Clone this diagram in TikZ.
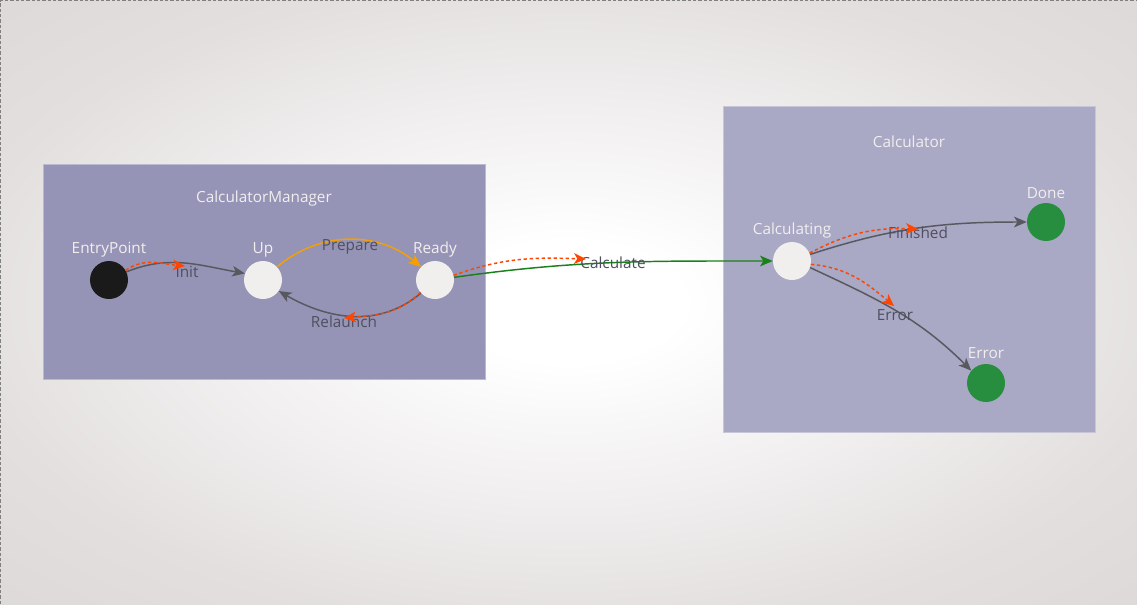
\documentclass[tikz,border=0pt]{standalone}
\usepackage{fontspec}
\setmainfont{Open Sans}
\usetikzlibrary{arrows.meta}
\definecolor{bgc}{HTML}{D5D0D0}
\definecolor{bgm}{HTML}{E3DFDF}
\definecolor{boxa}{HTML}{9694B6}
\definecolor{boxb}{HTML}{A9A8C5}
\definecolor{statew}{HTML}{F1EEEE}
\definecolor{stateg}{HTML}{268E3E}
\definecolor{stateb}{HTML}{1A1A1A}
\definecolor{edgegray}{HTML}{58585F}
\definecolor{lblgray}{HTML}{4F4F60}
\definecolor{tokc}{HTML}{FF4500}
\definecolor{prepc}{HTML}{F5A000}
\definecolor{calcc}{HTML}{1A801A}
\pgfdeclareradialshading{bgshade}{\pgfpoint{0bp}{0bp}}{color(0bp)=(white); color(5bp)=(white); color(27bp)=(bgm); color(50bp)=(bgc)}
\begin{document}
\begin{tikzpicture}[x=0.75pt,y=0.75pt,
  every node/.style={font=\fontsize{11.5}{14}\selectfont},
  group/.style={draw=white!35!#1, line width=0.6pt, fill=#1},
  state/.style={circle, minimum size=28.5pt, inner sep=0pt, fill=#1},
  title/.style={text=statew, inner sep=0pt},
  elbl/.style={text=lblgray, inner sep=0pt},
  trans/.style={draw=#1, line width=1.1pt, -{Stealth[length=9.5pt,width=8pt,inset=2.5pt]}},
  tok/.style={draw=tokc, line width=1.1pt, dash pattern=on 2.5pt off 2pt, -{Stealth[length=9pt,width=8pt,inset=2.5pt]}}
]
\useasboundingbox (0,0) rectangle (1137,-604);
\fill[bgc] (0,0) rectangle (1137,-604);
\shade[shading=bgshade] (0,0) rectangle (1137,-604);
\draw[gray, line width=0.75pt, dash pattern=on 2.5pt off 1.5pt] (0.5,-604) -- (0.5,-0.5) -- (1137,-0.5);

% groups
\path[group=boxa] (43,-164) rectangle (485,-379);
\path[group=boxb] (723,-106) rectangle (1095,-432);
\node[title] (tman) at (264,-199) {CalculatorManager};
\node[title] (tcalc) at (909,-142) {Calculator};

% states
\node[state=stateb] (ep) at (109,-280) {};
\node[state=statew] (up) at (263,-280) {};
\node[state=statew] (ready) at (435,-280) {};
\node[state=statew] (calc) at (792,-261) {};
\node[state=stateg] (done) at (1046,-222) {};
\node[state=stateg] (err) at (986,-383) {};

\node[title] (lep) at (109,-250) {EntryPoint};
\node[title] (lup) at (263,-250) {Up};
\node[title] (lready) at (435,-250) {Ready};
\node[title] (lcalc) at (792,-231) {Calculating};
\node[title] (ldone) at (1046,-193) {Done};
\node[title] (lerr) at (986,-353) {Error};

% transitions
\draw[trans=edgegray] (ep.25) to[out=22,in=170] (up.160);
\draw[trans=prepc] (up.43) to[out=40,in=140] (ready.137);
\draw[trans=edgegray] (ready.223) to[out=-140,in=-30] (up.-35);
\draw[trans=calcc] (ready.8) to[out=8,in=180] (calc.west);
\draw[trans=edgegray] (calc.20) to[out=18,in=180] (done.west);
\draw[trans=edgegray] (calc.-20) to[out=-25,in=135] (err.140);

% edge labels
\node[elbl] (linit) at (187,-272) {Init};
\node[elbl] (lprep) at (350,-247) {Prepare};
\node[elbl] (lrel) at (344,-322) {Relaunch};
\node[elbl] (lcal) at (613,-263) {Calculate};
\node[elbl] (lfin) at (918,-233) {Finished};
\node[elbl] (lerrt) at (895,-315) {Error};

% tokens
\coordinate (tinit) at (185,-266);
\coordinate (trel) at (344,-318);
\coordinate (tcal) at (586,-259);
\coordinate (tfin) at (918,-229);
\coordinate (terr) at (894,-306);
\draw[tok] (ep.30) to[out=35,in=175] (tinit);
\draw[tok] (ready.220) to[out=-135,in=5] (trel);
\draw[tok] (ready.14) to[out=20,in=178] (tcal);
\draw[tok] (calc.24) to[out=28,in=178] (tfin);
\draw[tok] (calc.-10) to[out=-5,in=140] (terr);
\end{tikzpicture}
\end{document}
